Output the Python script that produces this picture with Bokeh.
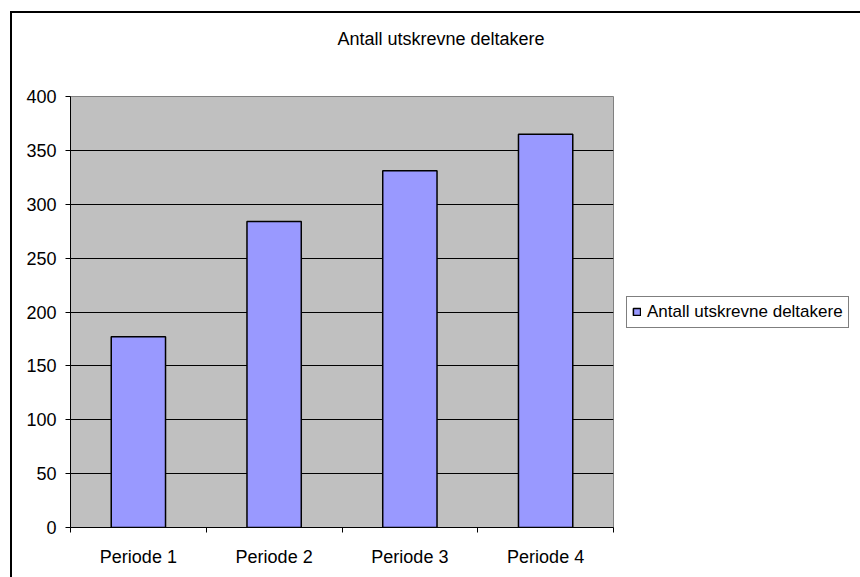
from bokeh.plotting import figure
from bokeh.models import (Range1d, FixedTicker, Legend, LegendItem, ColumnDataSource, Title)
from bokeh.embed import file_html
from bokeh.resources import INLINE

# ---- data ----
categories = ["Periode 1", "Periode 2", "Periode 3", "Periode 4"]
values = [177, 284, 331, 365]
y_ticks = [0, 50, 100, 150, 200, 250, 300, 350, 400]
series_name = "Antall utskrevne deltakere"
title_text = "Antall utskrevne deltakere"

FONT = "Liberation Sans"
FS = "18px"

x_pos = [i + 0.5 for i in range(len(categories))]
x_bounds = [float(i) for i in range(len(categories) + 1)]
src = ColumnDataSource(dict(x=x_pos, top=values, cat=categories))

p = figure(frame_width=543, frame_height=431, output_backend="svg", toolbar_location=None,
           x_range=Range1d(0, len(categories)), y_range=Range1d(0, 400),
           min_border_left=58, min_border_right=247, min_border_top=83,
           min_border_bottom=50)
p.margin = (11, 0, 0, 10)
p.styles = {"border-left": "2px solid black", "border-top": "2px solid black"}
p.background_fill_color = "#C0C0C0"
p.border_fill_color = "white"
p.outline_line_color = "#808080"
p.outline_line_width = 1

r = p.vbar(x="x", top="top", width=0.4, bottom=0, source=src,
           fill_color="#9999FF", line_color="black", line_width=1.5)

# title: spacer (nearest the frame) then the visible title
p.title.text = ""
p.add_layout(Title(text=" ", text_font_size="10px", standoff=30), "above")
p.add_layout(Title(text=title_text, align="left", offset=267, standoff=10,
                   text_font=FONT, text_font_size=FS, text_font_style="normal",
                   text_color="black"), "above")

# grid
p.xgrid.visible = False
p.ygrid.ticker = FixedTicker(ticks=y_ticks)
p.ygrid.grid_line_color = "black"
p.ygrid.grid_line_width = 1

# y axis
ya = p.yaxis[0]
ya.ticker = FixedTicker(ticks=y_ticks)
ya.axis_line_color = "black"
ya.major_tick_line_color = "black"
ya.major_tick_out = 5
ya.major_tick_in = 0
ya.minor_tick_line_color = None
ya.major_label_text_font = FONT
ya.major_label_text_font_size = FS
ya.major_label_text_color = "black"
ya.major_label_standoff = 9

# x axis
xa = p.xaxis[0]
xa.ticker = FixedTicker(ticks=x_pos, minor_ticks=x_bounds)
xa.major_label_overrides = {x: c for x, c in zip(x_pos, categories)}
xa.axis_line_color = "black"
xa.major_tick_out = 0
xa.major_tick_in = 0
xa.minor_tick_out = 5
xa.minor_tick_in = 0
xa.minor_tick_line_color = "black"
xa.major_label_text_font = FONT
xa.major_label_text_font_size = FS
xa.major_label_text_color = "black"
xa.major_label_standoff = 14

# legend
legend = Legend(items=[LegendItem(label=series_name, renderers=[r])],
                location="center_left", border_line_color="black",
                border_line_width=1, background_fill_color="white",
                padding=5, margin=13, glyph_width=9, glyph_height=9,
                label_standoff=6, label_text_font=FONT,
                label_text_font_size="17px", label_text_color="black",
                label_height=18)
p.add_layout(legend, "right")

open("out.html", "w").write(file_html(p, INLINE))
